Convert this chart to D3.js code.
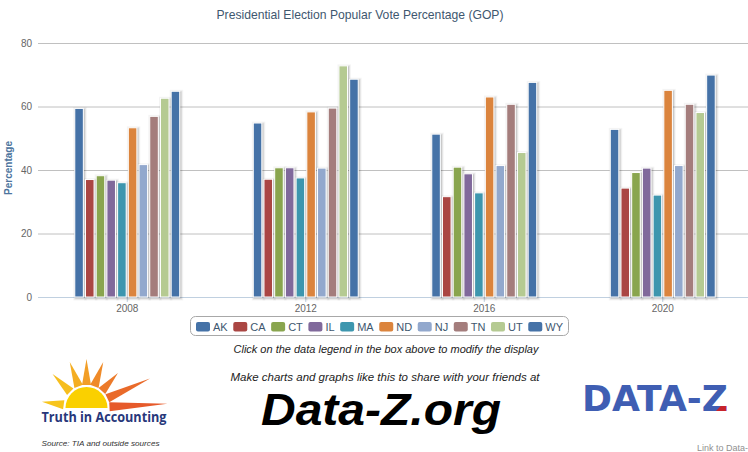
<!DOCTYPE html>
<html>
<head>
<meta charset="utf-8">
<script src="https://cdnjs.cloudflare.com/ajax/libs/d3/7.8.5/d3.min.js"></script>
<style>
  html, body { margin: 0; padding: 0; background: #fff; }
  svg { display: block; }
</style>
</head>
<body>
<svg id="chart" width="748" height="452"></svg>
<script>
// ---- Data ----
const years = ["2008", "2012", "2016", "2020"];
const states = ["AK", "CA", "CT", "IL", "MA", "ND", "NJ", "TN", "UT", "WY"];
const stateColors = ["#4572A7", "#AA4643", "#89A54E", "#80699B", "#3D96AE",
                     "#DB843D", "#92A8CD", "#A47D7C", "#B5CA92", "#4572A7"];
const AK = [59.4, 54.8, 51.3, 52.8];
const CA = [37.0, 37.1, 31.6, 34.3];
const CT = [38.2, 40.7, 40.9, 39.2];
const IL = [36.8, 40.7, 38.8, 40.6];
const MA = [36.0, 37.5, 32.8, 32.1];
const ND = [53.3, 58.3, 63.0, 65.1];
const NJ = [41.7, 40.6, 41.4, 41.4];
const TN = [56.9, 59.5, 60.7, 60.7];
const UT = [62.6, 72.8, 45.5, 58.1];
const WY = [64.8, 68.6, 67.6, 69.9];
const yTicks = [0, 20, 40, 60, 80];

const seriesValues = { AK, CA, CT, IL, MA, ND, NJ, TN, UT, WY };

// ---- Layout ----
const svg = d3.select("#chart");
const plot = { left: 38, right: 752, top: 43, bottom: 297 };
const FONT2 = "'Liberation Sans', Arial, sans-serif";

const x = d3.scaleBand().domain(years).range([plot.left, plot.right]).padding(0);
const bw = x.bandwidth();
const xInner = d3.scaleBand().domain(states).range([0.2 * bw, 0.8 * bw])
  .paddingInner(0.2).paddingOuter(0.1);
const y = d3.scaleLinear().domain([0, 80]).range([plot.bottom, plot.top]);

// Title
svg.append("text")
  .attr("x", 360).attr("y", 19)
  .attr("text-anchor", "middle")
  .attr("font-family", FONT2).attr("font-size", 13)
  .attr("fill", "#3E576F")
  .attr("textLength", 287).attr("lengthAdjust", "spacingAndGlyphs")
  .text("Presidential Election Popular Vote Percentage (GOP)");

// Y gridlines + labels via axis
const yAxis = d3.axisLeft(y).tickValues(yTicks).tickSize(-(plot.right - plot.left)).tickPadding(7);
const gy = svg.append("g").attr("transform", `translate(${plot.left},0)`).call(yAxis);
gy.select(".domain").remove();
gy.selectAll(".tick line").attr("stroke", "#C0C0C0").attr("stroke-width", 1)
  .filter(d => d === 0).remove();
gy.selectAll(".tick text").attr("font-family", FONT2).attr("font-size", 10)
  .attr("fill", "#666").attr("x", -6);

// Y title
svg.append("text")
  .attr("transform", "translate(12,168) rotate(-90)")
  .attr("text-anchor", "middle")
  .attr("font-family", FONT2).attr("font-size", 10).attr("font-weight", "bold")
  .attr("fill", "#4d759e")
  .text("Percentage");

// X axis
const xAxis = d3.axisBottom(x).tickSize(5).tickPadding(3);
const gx = svg.append("g").attr("transform", `translate(0,${plot.bottom})`).call(xAxis);
gx.select(".domain").attr("stroke", "#C0D0E0").attr("d", `M${plot.left},0.5H${plot.right}`);
gx.selectAll(".tick line").attr("stroke", "#C0D0E0");
gx.selectAll(".tick text").attr("font-family", FONT2).attr("font-size", 10).attr("fill", "#666");

// Bars
const groups = svg.append("g").selectAll("g").data(years).join("g")
  .attr("transform", d => `translate(${x(d)},0)`);

const barData = (yr, yi) => states.map((s, si) => ({ s, si, v: seriesValues[s][yi] }));

groups.each(function (yr, yi) {
  const g = d3.select(this);
  const data = barData(yr, yi);
  [[5, 0.04], [3, 0.08], [1, 0.12]].forEach(([w, o]) => {
    g.selectAll(null).data(data).join("rect")
      .attr("x", d => xInner(d.s) + 1).attr("y", d => y(d.v) + 1)
      .attr("width", xInner.bandwidth()).attr("height", d => plot.bottom - y(d.v))
      .attr("fill", "none").attr("stroke", "#000").attr("stroke-opacity", o)
      .attr("stroke-width", w);
  });
  g.selectAll(null).data(data).join("rect")
    .attr("x", d => xInner(d.s)).attr("y", d => y(d.v))
    .attr("width", xInner.bandwidth()).attr("height", d => plot.bottom - y(d.v))
    .attr("fill", d => stateColors[d.si]).attr("stroke", "#fff").attr("stroke-width", 1);
});

// Legend
const legend = svg.append("g");
legend.append("rect")
  .attr("x", 190.5).attr("y", 316.5).attr("width", 378).attr("height", 19)
  .attr("rx", 5).attr("fill", "#fff").attr("stroke", "#a8a8a8");
const items = legend.selectAll("g.item").data(states).join("g").attr("class", "item");
items.append("rect").attr("y", 322).attr("width", 14).attr("height", 9.5).attr("rx", 2)
  .attr("fill", (d, i) => stateColors[i]);
const labels = items.append("text").attr("x", 17).attr("y", 330.5)
  .attr("font-family", FONT2).attr("font-size", 11).attr("fill", "#3E576F").text(d => d);
const widths = labels.nodes().map(n => 17 + n.getComputedTextLength());
const startX = 196, endX = 563;
const gap = (endX - startX - d3.sum(widths)) / (states.length - 1);
let cx = startX;
items.each(function (d, i) {
  d3.select(this).attr("transform", `translate(${cx},0)`);
  cx += widths[i] + gap;
});

// Captions
svg.append("text").attr("x", 386).attr("y", 353).attr("text-anchor", "middle")
  .attr("font-family", FONT2).attr("font-size", 10.5).attr("font-style", "italic")
  .attr("fill", "#222").attr("textLength", 305).attr("lengthAdjust", "spacingAndGlyphs")
  .text("Click on the data legend in the box above to modify the display");

svg.append("text").attr("x", 385).attr("y", 381).attr("text-anchor", "middle")
  .attr("font-family", FONT2).attr("font-size", 11).attr("font-style", "italic")
  .attr("fill", "#222").attr("textLength", 309).attr("lengthAdjust", "spacingAndGlyphs")
  .text("Make charts and graphs like this to share with your friends at");

svg.append("text").attr("x", 381).attr("y", 425).attr("text-anchor", "middle")
  .attr("font-family", FONT2).attr("font-size", 44).attr("font-weight", "bold")
  .attr("font-style", "italic").attr("fill", "#000")
  .attr("textLength", 240).attr("lengthAdjust", "spacingAndGlyphs")
  .text("Data-Z.org");

// TIA logo
const tia = svg.append("g");
const sun = { cx: 86.5, cy: 408, r: 21 };
const rays = [
  { a: 172, L: 45, c: "#F7C51C" },
  { a: 135, L: 48, c: "#F6BE1E" },
  { a: 110, L: 49, c: "#F4AE22" },
  { a: 90,  L: 49, c: "#F29E26" },
  { a: 70,  L: 49, c: "#EF8A28" },
  { a: 48,  L: 47, c: "#EC7A2A" },
  { a: 25,  L: 70, c: "#E96A2A" },
  { a: 3,   L: 81, c: "#E65A2A" }
];
rays.forEach(r => {
  const t = r.a * Math.PI / 180;
  const ux = Math.cos(t), uy = -Math.sin(t);
  const px = -uy, py = ux;
  const r0 = 23, hw = 4.5;
  const b1 = [sun.cx + ux * r0 + px * hw, sun.cy + uy * r0 + py * hw];
  const b2 = [sun.cx + ux * r0 - px * hw, sun.cy + uy * r0 - py * hw];
  const tip = [sun.cx + ux * r.L, sun.cy + uy * r.L];
  tia.append("path").attr("d", `M${b1}L${tip}L${b2}Z`).attr("fill", r.c);
});
tia.append("path")
  .attr("d", `M${sun.cx - sun.r},${sun.cy} A${sun.r},${sun.r} 0 0 1 ${sun.cx + sun.r},${sun.cy} Z`)
  .attr("fill", "#FAD000");
tia.append("text").attr("x", 41.5).attr("y", 422)
  .attr("font-family", "'Open Sans', sans-serif").attr("font-size", 14).attr("font-weight", "bold")
  .attr("fill", "#27377a").attr("textLength", 125).attr("lengthAdjust", "spacingAndGlyphs")
  .text("Truth in Accounting");
svg.append("text").attr("x", 41.5).attr("y", 446)
  .attr("font-family", FONT2).attr("font-size", 8).attr("font-style", "italic")
  .attr("fill", "#333").attr("textLength", 118).attr("lengthAdjust", "spacingAndGlyphs")
  .text("Source: TIA and outside sources");

// DATA-Z logo
const defs = svg.append("defs");
defs.append("clipPath").attr("id", "zred").append("path")
  .attr("d", "M716,411 L730,396 L730,411 Z");
const logo = svg.append("g");
logo.append("text").attr("x", 582).attr("y", 410.5)
  .attr("font-family", "'DejaVu Sans', sans-serif").attr("font-size", 35).attr("font-weight", "bold")
  .attr("fill", "#3F5EB3").attr("textLength", 146).attr("lengthAdjust", "spacingAndGlyphs")
  .text("DATA-Z");
logo.append("text").attr("x", 582).attr("y", 410.5).attr("clip-path", "url(#zred)")
  .attr("font-family", "'DejaVu Sans', sans-serif").attr("font-size", 35).attr("font-weight", "bold")
  .attr("fill", "#C8232B").attr("textLength", 146).attr("lengthAdjust", "spacingAndGlyphs")
  .text("DATA-Z");

svg.append("text").attr("x", 697).attr("y", 451)
  .attr("font-family", FONT2).attr("font-size", 9).attr("fill", "#909090")
  .text("Link to Data-");
</script>
</body>
</html>
